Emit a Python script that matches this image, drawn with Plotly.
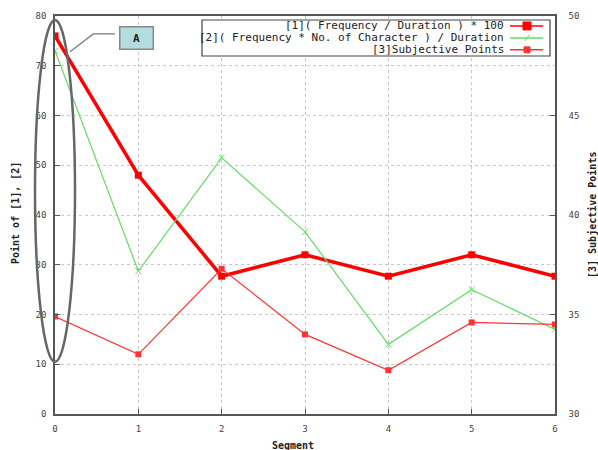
import plotly.graph_objects as go

segments = [0, 1, 2, 3, 4, 5, 6]
s1_values = [76, 48, 27.7, 32, 27.7, 32, 27.7]
s2_values = [73, 28.7, 51.5, 36.6, 14, 25, 17]
s3_values = [34.9, 33.0, 37.3, 34.0, 32.2, 34.6, 34.5]
s1_name = "[1]( Frequency / Duration ) * 100"
s2_name = "[2]( Frequency * No. of Character ) / Duration"
s3_name = "[3]Subjective Points"
left_ticks = [0, 10, 20, 30, 40, 50, 60, 70, 80]
right_ticks = [30, 35, 40, 45, 50]

X_RANGE = [0, 6]
Y_RANGE = [0, 80]


def px(x):
    return (x - X_RANGE[0]) / (X_RANGE[1] - X_RANGE[0])


def py(y):
    return (y - Y_RANGE[0]) / (Y_RANGE[1] - Y_RANGE[0])


FONT = "DejaVu Sans Mono"
fig = go.Figure()
fig.add_trace(go.Scatter(x=segments, y=s1_values, name=s1_name, mode="lines+markers",
                         line=dict(color="#ff0000", width=3.5),
                         marker=dict(symbol="square", size=7, color="#ff0000")))
fig.add_trace(go.Scatter(x=segments, y=s2_values, name=s2_name, mode="lines+markers",
                         line=dict(color="#66dd66", width=1.2),
                         marker=dict(symbol="x-thin", size=6, line=dict(color="#66dd66", width=1))))
fig.add_trace(go.Scatter(x=segments, y=s3_values, name=s3_name, mode="lines+markers", yaxis="y2",
                         line=dict(color="#ff3333", width=1.2),
                         marker=dict(symbol="square", size=6, color="#ff3333")))

axis_common = dict(showline=True, linecolor="#555", linewidth=1.5, ticks="inside", ticklen=5,
                   tickcolor="#555", tickfont=dict(family=FONT, size=9, color="#444"),
                   zeroline=False, automargin=False)
fig.update_layout(
    width=598, height=450, showlegend=False,
    paper_bgcolor="white", plot_bgcolor="white",
    margin=dict(l=55, r=43, t=16, b=36),
    font=dict(family=FONT, size=9, color="#333"),
    xaxis=dict(range=X_RANGE, tickvals=segments, mirror=True, showgrid=True, gridcolor="#c8c8c8",
               griddash="dot", ticklabelstandoff=5, **axis_common),
    yaxis=dict(range=Y_RANGE, tickvals=left_ticks, showgrid=True, gridcolor="#c8c8c8", griddash="dot",
               ticklabelstandoff=5, **axis_common),
    yaxis2=dict(range=[30, 50], tickvals=right_ticks, overlaying="y", side="right", showgrid=False,
                ticklabelstandoff=10, **axis_common),
)

# Axis titles
fig.add_annotation(xref="paper", yref="paper", x=-0.08, y=0.505, text="<b>Point of [1], [2]</b>",
                   textangle=-90, showarrow=False, xanchor="center", yanchor="middle",
                   font=dict(family=FONT, size=10, color="#222"))
fig.add_annotation(xref="paper", yref="paper", x=1.074, y=0.5, text="<b>[3] Subjective Points</b>",
                   textangle=-90, showarrow=False, xanchor="center", yanchor="middle",
                   font=dict(family=FONT, size=10, color="#222"))
fig.add_annotation(xref="paper", yref="paper", x=0.476, y=-0.078, text="<b>Segment</b>",
                   showarrow=False, xanchor="center", yanchor="middle",
                   font=dict(family=FONT, size=10, color="#222"))

# Ellipse highlight around segment 0
fig.add_shape(type="circle", xref="paper", yref="paper", x0=px(-0.24), x1=px(0.24),
              y0=py(10.5), y1=py(79.2), line=dict(color="#666", width=2.5), layer="above")
# Callout connector
fig.add_shape(type="path", xref="paper", yref="paper",
              path=f"M {px(0.18)} {py(72.8)} L {px(0.46)} {py(76.4)} L {px(0.72)} {py(76.4)}",
              line=dict(color="#777", width=1.2), layer="above")
fig.add_annotation(xref="paper", yref="paper", x=px(0.975), y=py(75.5), text="<b>A</b>", showarrow=False,
                   xanchor="center", yanchor="middle",
                   font=dict(family=FONT, size=11, color="#222"), bgcolor="#b4dde0",
                   bordercolor="#888", borderwidth=1.5, borderpad=4, width=24)

# Custom legend (gnuplot style: text right, sample on the right)
fig.add_shape(type="rect", xref="paper", yref="paper", x0=0.294, x1=0.99, y0=0.8995, y1=0.99,
              line=dict(color="#444", width=1.2), fillcolor="white", layer="above")
leg_items = [(s1_name, "#ff0000", True, "square"),
             (s2_name, "#66dd66", False, "x"),
             (s3_name, "#ff3333", False, "square")]
ys = [0.975, 0.945, 0.915]
for (name, col, big, sym), yy in zip(leg_items, ys):
    fig.add_annotation(xref="paper", yref="paper", x=0.902, y=yy, text=name, showarrow=False,
                       xanchor="right", yanchor="middle",
                       font=dict(family=FONT, size=11, color="#222"))
    fig.add_shape(type="line", xref="paper", yref="paper", x0=0.91, x1=0.976, y0=yy, y1=yy,
                  line=dict(color=col, width=1.5), layer="above")
    if sym == "square":
        d = 0.008 if big else 0.006
        fig.add_shape(type="rect", xref="paper", yref="paper", x0=0.944 - d, x1=0.944 + d,
                      y0=yy - d * 1.25, y1=yy + d * 1.25, line=dict(color=col, width=1),
                      fillcolor=col, layer="above")
    else:
        fig.add_shape(type="line", xref="paper", yref="paper", x0=0.939, x1=0.949,
                      y0=yy - 0.008, y1=yy + 0.008, line=dict(color=col, width=1), layer="above")

fig.write_html("out.html", config={"displayModeBar": False},
               post_script="document.body.style.margin='0';document.body.style.overflow='hidden';")
